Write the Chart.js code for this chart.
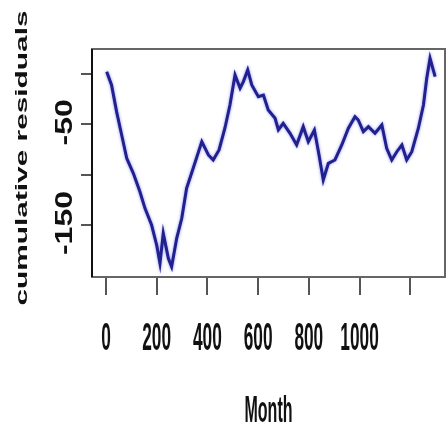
<!DOCTYPE html>
<html>
<head>
<meta charset="utf-8">
<script src="https://cdn.jsdelivr.net/npm/chart.js@4/dist/chart.umd.min.js"></script>
<style>
  html, body { margin: 0; padding: 0; background: #ffffff; }
  #wrap { width: 448px; height: 427px; }
</style>
</head>
<body>
<div id="wrap"><canvas id="chart" width="448" height="427"></canvas></div>
<script>
// Cumulative residuals by month
const months = [3, 22, 42, 62, 82, 108, 134, 154, 180, 200, 213, 226, 246, 259, 279, 299, 318, 344, 378, 404,
  423, 446, 469, 489, 509, 529, 542, 559, 575, 601, 621, 640, 667, 680, 699, 726, 752, 778, 798, 822,
  838, 857, 877, 903, 930, 956, 982, 995, 1015, 1035, 1061, 1088, 1107, 1127, 1147, 1167, 1186, 1206, 1232, 1252,
  1265, 1278, 1298];
const residuals = [2.3, -10.9, -37.4, -60.6, -83.7, -98.6, -116.9, -133.4, -150, -169.8, -188, -158.2, -183, -191.4, -163.2, -143.3, -113.5, -93.7, -67.2, -80.4,
  -85.4, -75.5, -53.9, -30.8, -1, -14.2, -7.6, 4, -10.9, -22.5, -20.9, -35.8, -44, -55.6, -49, -58.9, -70.5, -52.3, -67.2, -55.6,
  -77.2, -105.3, -88.7, -85.4, -70.5, -53.9, -42.4, -45.7, -57.3, -52.3, -58.9, -50.6, -73.8, -85.4, -77.2, -70.5, -85.4, -77.2, -53.9, -30.8,
  -4.3, 15.6, -2.7];

const xTickValues = [0, 200, 400, 600, 800, 1000, 1200];
const xTickLabels = ['0', '200', '400', '600', '800', '1000', ''];
const yTickValues = [0, -50, -100, -150];
const yTickLabels = ['', '-50', '', '-150'];
const xTitle = 'Month';
const yTitle = 'cumulative residuals';

const FONT = 'bold 16px "Liberation Sans", Arial, sans-serif';

// draw a stretched text run: (x, y) is the anchor, sx along the text, sy across it
function stretchedText(ctx, text, x, y, sx, sy, rot, align) {
  ctx.save();
  ctx.translate(x, y);
  if (rot) ctx.rotate(rot);
  ctx.scale(sx, sy);
  ctx.font = FONT;
  ctx.fillStyle = '#111';
  ctx.textAlign = align || 'center';
  ctx.textBaseline = 'alphabetic';
  ctx.fillText(text, 0, 0);
  ctx.restore();
}

const lineGlow = {
  id: 'lineGlow',
  beforeDatasetDraw(chart) {
    const ctx = chart.ctx;
    ctx.save();
    ctx.shadowColor = 'rgba(90, 90, 230, 0.7)';
    ctx.shadowBlur = 3;
  },
  afterDatasetDraw(chart) {
    chart.ctx.restore();
  }
};

const frameAndText = {
  id: 'frameAndText',
  afterDatasetsDraw(chart) {
    const ctx = chart.ctx;
    const a = chart.chartArea;
    ctx.save();
    ctx.strokeStyle = '#666';
    ctx.lineWidth = 2;
    ctx.strokeRect(a.left, a.top, a.right - a.left, a.bottom - a.top);
    ctx.strokeStyle = '#111';
    ctx.beginPath();
    ctx.moveTo(a.left, a.top);
    ctx.lineTo(a.left, a.bottom);
    ctx.stroke();
    ctx.restore();
  },
  afterDraw(chart) {
    const ctx = chart.ctx;
    const a = chart.chartArea;
    const xs = chart.scales.x, ys = chart.scales.y;
    ctx.save();
    ctx.font = FONT;
    const digitW = ctx.measureText('0').width;
    const mW = ctx.measureText(xTitle).width;
    const yW = ctx.measureText(yTitle).width;
    ctx.restore();

    // x tick labels
    xTickValues.forEach((v, i) => {
      if (!xTickLabels[i]) return;
      stretchedText(ctx, xTickLabels[i], xs.getPixelForValue(v), 350, 9.6 / digitW, 2.4, 0, 'center');
    });
    // y tick labels, rotated
    yTickValues.forEach((v, i) => {
      if (!yTickLabels[i]) return;
      stretchedText(ctx, yTickLabels[i], 72, ys.getPixelForValue(v) - 2, 2.0, 1.45, -Math.PI / 2, 'center');
    });
    // axis titles
    stretchedText(ctx, xTitle, (a.left + a.right) / 2, 422, 48 / mW, 2.3, 0, 'center');
    stretchedText(ctx, yTitle, 27, 158, 295 / yW, 1.03, -Math.PI / 2, 'center');
  }
};

new Chart(document.getElementById('chart'), {
  type: 'line',
  data: {
    datasets: [{
      data: months.map((m, i) => ({ x: m, y: residuals[i] })),
      borderColor: '#20208f',
      borderWidth: 3,
      pointRadius: 0,
      tension: 0,
      fill: false
    }]
  },
  options: {
    responsive: false,
    animation: false,
    devicePixelRatio: 1,
    layout: { padding: { top: 49, right: 3, left: 0, bottom: 0 } },
    plugins: { legend: { display: false }, tooltip: { enabled: false } },
    scales: {
      x: {
        type: 'linear',
        min: -55,
        max: 1337,
        afterBuildTicks(s) { s.ticks = xTickValues.map(v => ({ value: v })); },
        afterFit(s) { s.height = 150; },
        ticks: { display: false },
        border: { display: false },
        grid: { drawOnChartArea: false, drawTicks: true, tickLength: 18, color: '#555', lineWidth: 2 }
      },
      y: {
        type: 'linear',
        min: -201.6,
        max: 24.8,
        afterBuildTicks(s) { s.ticks = yTickValues.map(v => ({ value: v })); },
        afterFit(s) { s.width = 92; },
        ticks: { display: false },
        border: { display: false },
        grid: { drawOnChartArea: false, drawTicks: true, tickLength: 11, color: '#555', lineWidth: 2 }
      }
    }
  },
  plugins: [lineGlow, frameAndText]
});
</script>
</body>
</html>
